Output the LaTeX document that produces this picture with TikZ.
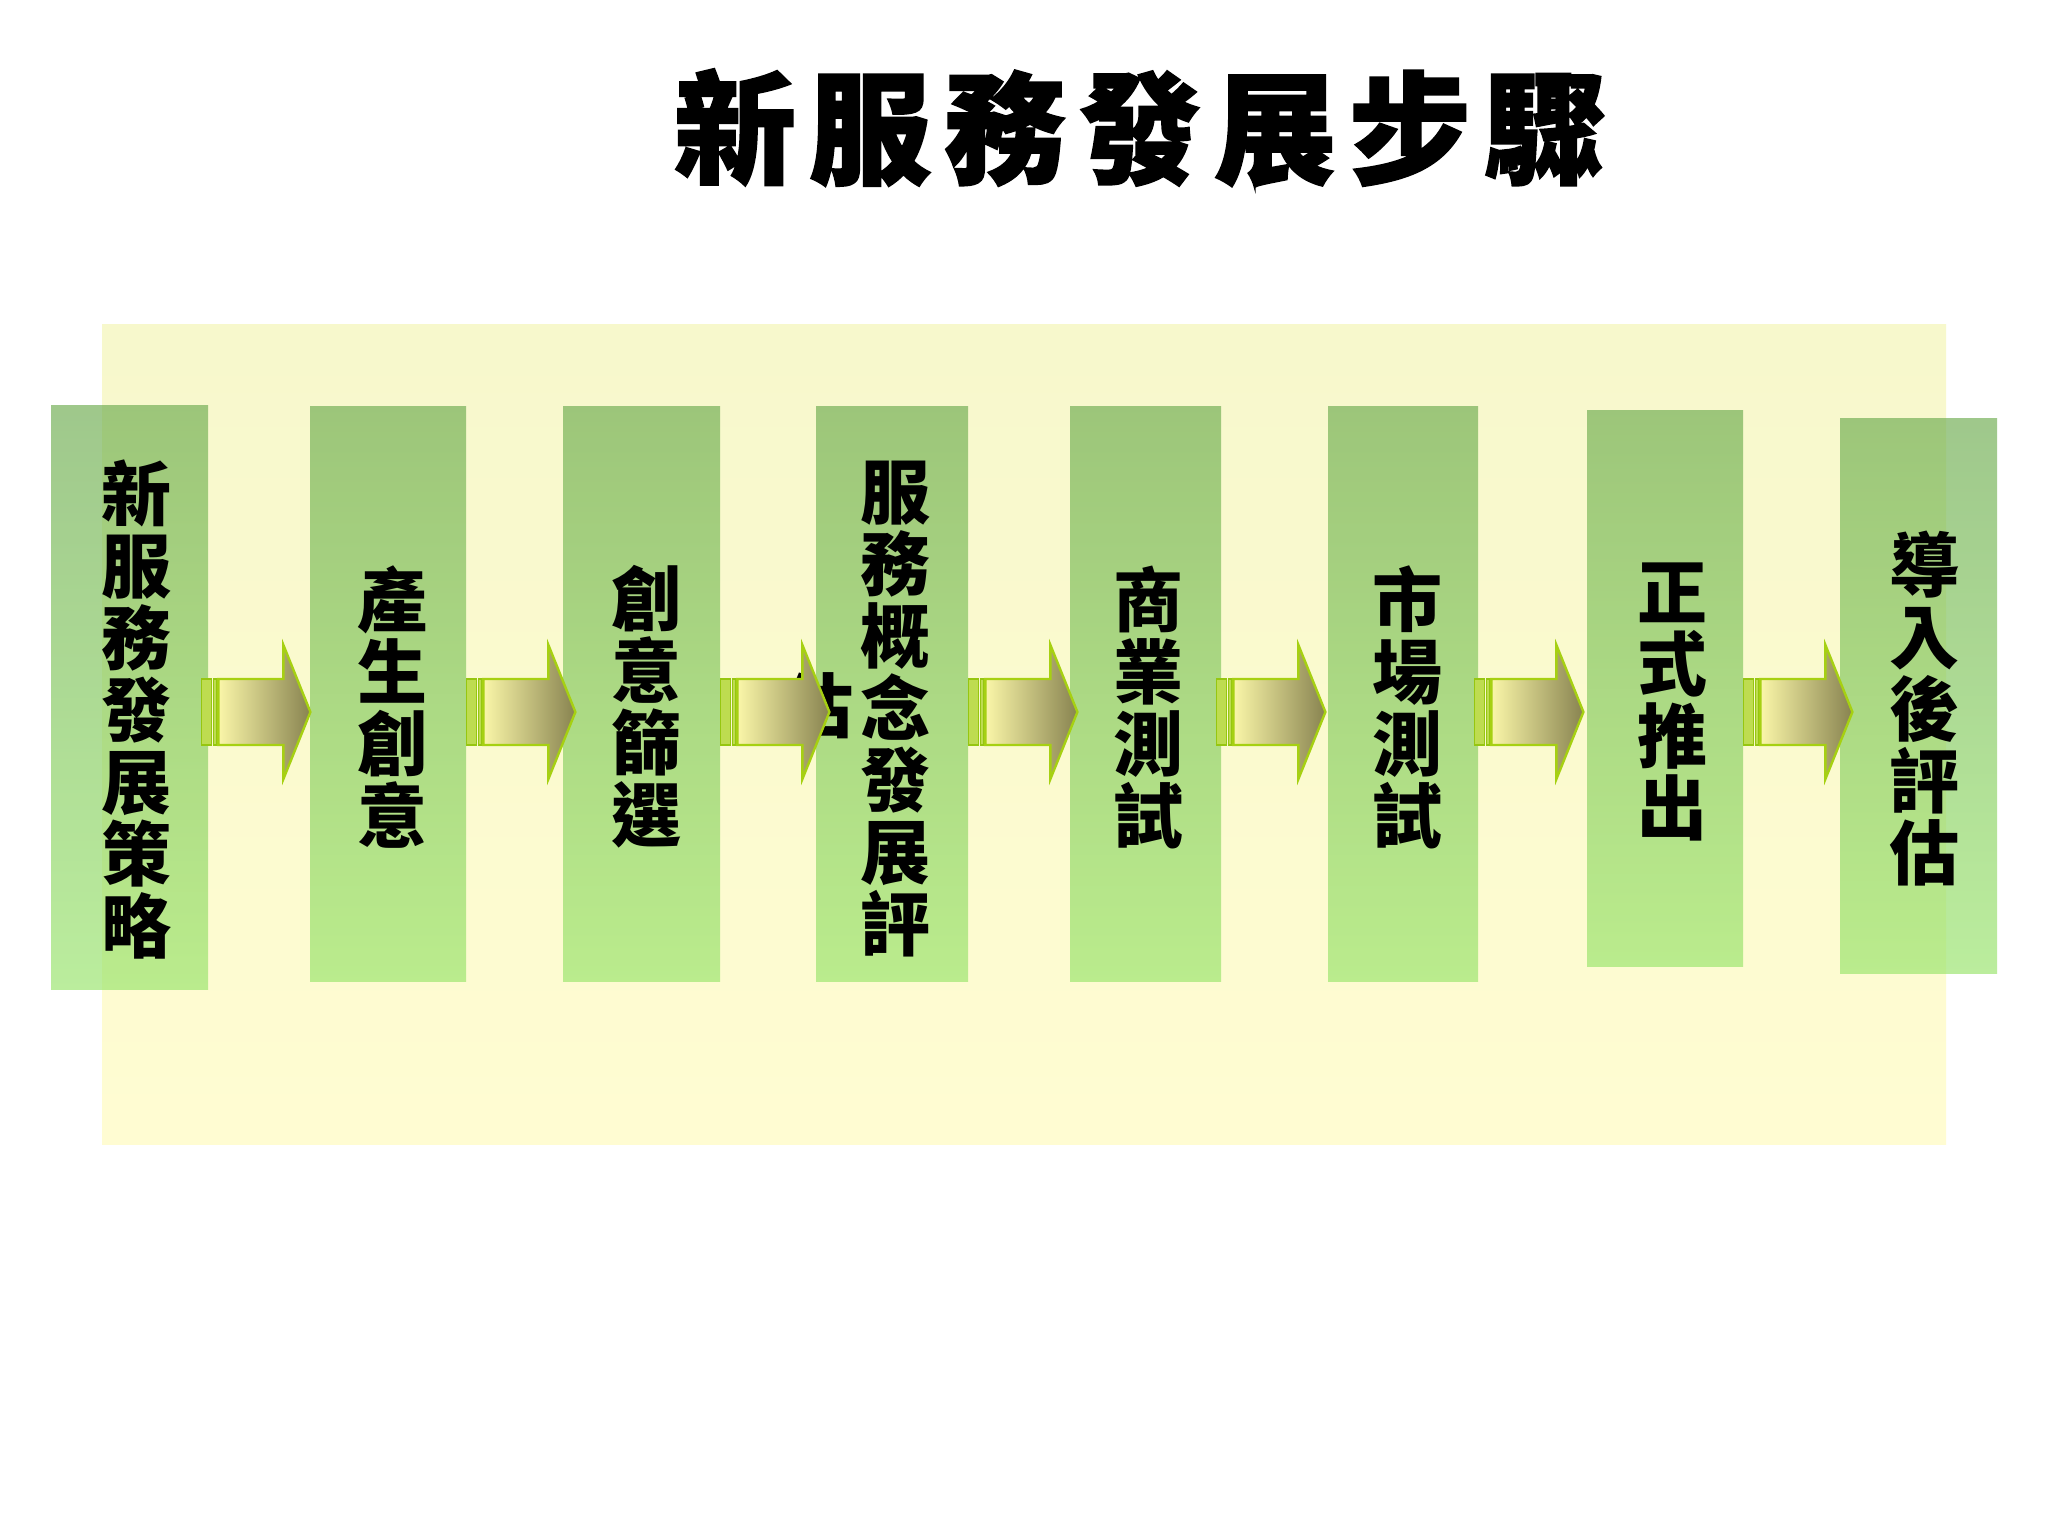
\documentclass[tikz,border=0pt]{standalone}
\usepackage{fontspec}
\newfontfamily\cjk{Noto Sans CJK TC}
\usetikzlibrary{fit,calc}
\definecolor{bgtop}{RGB}{247,248,204}
\definecolor{bgbot}{RGB}{255,252,210}
\definecolor{boxtop}{RGB}{108,171,78}
\definecolor{boxbot}{RGB}{151,228,105}
\definecolor{arrl}{RGB}{250,246,168}
\definecolor{arrr}{RGB}{136,131,80}
\definecolor{arrline}{RGB}{166,208,18}
\definecolor{stripefill}{RGB}{190,220,80}
\definecolor{stripeline}{RGB}{150,198,16}
\tikzset{
  bgbox/.style={inner sep=0pt, top color=bgtop, bottom color=bgbot},
  stepbox/.style={inner sep=0pt, top color=boxtop, bottom color=boxbot,
    fill opacity=0.65},
  steptext/.style={inner sep=0pt, align=center,
    font=\cjk\bfseries\fontsize{35}{36}\selectfont},
  titletext/.style={inner sep=0pt, font=\cjk\bfseries\addfontfeature{FakeBold=1.5}\fontsize{61}{61}\selectfont},
  arrowbody/.style={left color=arrl, right color=arrr, draw=arrline, line width=1.2pt, line join=miter},
  stripebar/.style={fill=stripefill, draw=stripeline, line width=0.8pt},
  barrow/.pic={
    \filldraw[stripebar] (0,-33) rectangle (10,33);
    \filldraw[stripebar] (12,-33) rectangle (15,33);
    \shadedraw[arrowbody] (17,-33) -- (82,-33) -- (82,-67) -- (109,0) -- (82,67) -- (82,33) -- (17,33) -- cycle;
  }
}
\begin{document}
\begin{tikzpicture}[x=0.5pt,y=-0.5pt]
\useasboundingbox (0,0) rectangle (2048,1536);
\fill[white] (0,0) rectangle (2048,1536);

\node[titletext] (title) at (1140,128) {新\kern6.5pt服\kern6.5pt務\kern6.5pt發\kern6.5pt展\kern6.5pt步\kern6.5pt驟};

\node[bgbox, fit={(102,324) (1946,1144)}] (bg) {};

\coordinate (ay) at (0,712);

\node[stepbox, fit={(51,405) (208,989)}] (b1) {};
\node[stepbox, fit={(310,406) (466,981)}] (b2) {};
\node[stepbox, fit={(563,406) (720,981)}] (b3) {};
\node[stepbox, fit={(816,406) (968,981)}] (b4) {};
\node[stepbox, fit={(1070,406) (1221,981)}] (b5) {};
\node[stepbox, fit={(1328,406) (1478,981)}] (b6) {};
\node[stepbox, fit={(1587,410) (1743,966)}] (b7) {};
\node[stepbox, fit={(1840,418) (1997,973)}] (b8) {};

\node[steptext] (t1) at (136,710) {新\\服\\務\\發\\展\\策\\略};
\node[steptext] (t2) at (392,707) {產\\生\\創\\意};
\node[steptext] (t3) at (646,707) {創\\意\\篩\\選};
\node[steptext] (t4) at (895,709) {服\\務\\概\\念\\發\\展\\評};
\node[steptext] (t4x) at (818,706) {估};
\node[steptext] (t5) at (1148,707) {商\\業\\測\\試};
\node[steptext] (t6) at (1407,707) {市\\場\\測\\試};
\node[steptext] (t7) at (1672,702) {正\\式\\推\\出};
\node[steptext] (t8) at (1924,709) {導\\入\\後\\評\\估};

\pic at ($(b1.east |- ay)+(-7,0)$) {barrow};
\pic at ($(b2.east |- ay)+(0,0)$) {barrow};
\pic at ($(b3.east |- ay)+(0,0)$) {barrow};
\pic at ($(b4.east |- ay)+(0,0)$) {barrow};
\pic at ($(b5.east |- ay)+(-5,0)$) {barrow};
\pic at ($(b6.east |- ay)+(-4,0)$) {barrow};
\pic at ($(b7.east |- ay)+(0,0)$) {barrow};
\end{tikzpicture}
\end{document}
